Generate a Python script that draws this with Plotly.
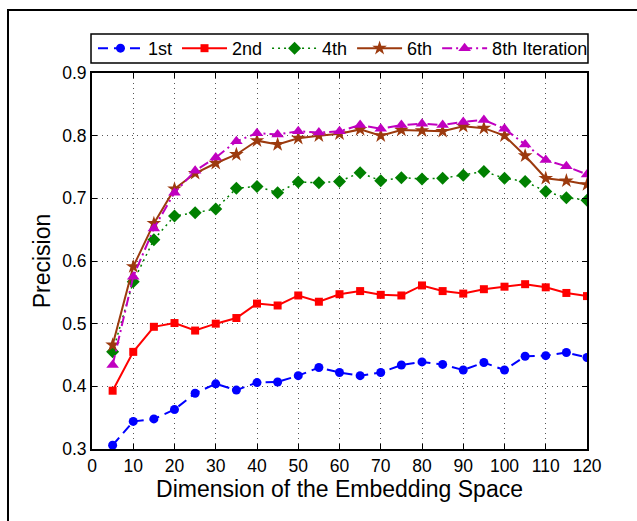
import plotly.graph_objects as go

dims = [5, 10, 15, 20, 25, 30, 35, 40, 45, 50, 55, 60, 65, 70, 75, 80, 85, 90, 95, 100, 105, 110, 115, 120]

iter1 = [0.306, 0.344, 0.348, 0.363, 0.389, 0.404, 0.394, 0.406, 0.407, 0.417, 0.430, 0.422,
         0.417, 0.422, 0.434, 0.439, 0.435, 0.426, 0.438, 0.426, 0.448, 0.449, 0.454, 0.446]
iter2 = [0.393, 0.455, 0.495, 0.501, 0.489, 0.500, 0.509, 0.532, 0.529, 0.545, 0.535, 0.547,
         0.552, 0.546, 0.545, 0.561, 0.552, 0.548, 0.555, 0.559, 0.563, 0.558, 0.549, 0.544]
iter4 = [0.455, 0.567, 0.634, 0.672, 0.677, 0.683, 0.716, 0.719, 0.709, 0.726, 0.725, 0.727,
         0.741, 0.728, 0.733, 0.731, 0.732, 0.737, 0.743, 0.732, 0.727, 0.711, 0.701, 0.697]
iter6 = [0.466, 0.591, 0.660, 0.715, 0.740, 0.756, 0.770, 0.792, 0.786, 0.796, 0.800, 0.803,
         0.810, 0.800, 0.809, 0.808, 0.807, 0.815, 0.812, 0.800, 0.768, 0.732, 0.728, 0.722]
iter8 = [0.434, 0.575, 0.652, 0.709, 0.744, 0.765, 0.791, 0.804, 0.802, 0.807, 0.805, 0.807,
         0.817, 0.811, 0.817, 0.819, 0.817, 0.822, 0.825, 0.811, 0.786, 0.761, 0.751, 0.738]

names = ["1st", "2nd", "4th", "6th", "8th Iteration"]
x_ticks = list(range(0, 121, 10))
y_ticks = [0.3, 0.4, 0.5, 0.6, 0.7, 0.8, 0.9]

series = [
    (iter1, names[0], "#0000FF", "10px,6px", 2, "circle", 9),
    (iter2, names[1], "#FF0000", "solid", 2, "square", 8),
    (iter4, names[2], "#008000", "2px,4px", 1.5, "diamond", 10),
    (iter6, names[3], "#9C3A0E", "solid", 2, "star", 11),
    (iter8, names[4], "#C000C0", "10px,4px,2px,4px", 2, "triangle-up", 11),
]

FONT = "Liberation Sans, Arial, sans-serif"

fig = go.Figure()
for vals, name, color, dash, lw, sym, ms in series:
    fig.add_trace(go.Scatter(
        x=dims, y=vals, name=name, mode="lines+markers",
        line=dict(color=color, width=lw, dash=dash),
        marker=dict(symbol=sym, size=ms, color=color, line=dict(width=0)),
    ))

axis_common = dict(
    showline=True, linecolor="black", linewidth=2, mirror="ticks",
    ticks="inside", ticklen=5, tickwidth=1, tickcolor="black",
    showgrid=True, gridcolor="#555555", gridwidth=1, griddash="1px,4px",
    zeroline=False,
    tickfont=dict(family=FONT, size=17.5, color="black"),
)

fig.update_xaxes(
    range=[0, 120], tickvals=x_ticks, ticktext=[str(v) for v in x_ticks],
    title=dict(text="Dimension of the Embedding Space", standoff=4,
               font=dict(family=FONT, size=23, color="black")),
    **axis_common,
)
fig.update_yaxes(
    range=[0.3, 0.9], tickvals=y_ticks, ticktext=[f"{v:.1f}" for v in y_ticks],
    title=dict(text="Precision", standoff=5,
               font=dict(family=FONT, size=23, color="black")),
    **axis_common,
)

fig.update_layout(
    width=637, height=521,
    margin=dict(l=92, r=50, t=73, b=72, autoexpand=False),
    paper_bgcolor="white", plot_bgcolor="white",
    font=dict(family=FONT, size=18, color="black"),
    legend=dict(
        orientation="h", x=0.002, y=1.016, xanchor="left", yanchor="bottom",
        bgcolor="rgba(0,0,0,0)", borderwidth=0,
        font=dict(family=FONT, size=18, color="black"), itemwidth=45,
        tracegroupgap=0,
    ),
    shapes=[
        dict(type="rect", xref="paper", yref="paper",
             x0=-0.1697, x1=1.3, y0=-0.4, y1=1.1676,
             line=dict(color="black", width=2), fillcolor="rgba(0,0,0,0)", layer="below"),
        dict(type="rect", xref="paper", yref="paper",
             x0=-0.002, x1=1.002, y0=1.0266, y1=1.1037,
             line=dict(color="black", width=1.5), fillcolor="white", layer="above"),
    ],
)

fig.write_html("out.html", config={"displayModeBar": False},
               post_script="document.body.style.margin='0px';document.body.style.overflow='hidden';")
